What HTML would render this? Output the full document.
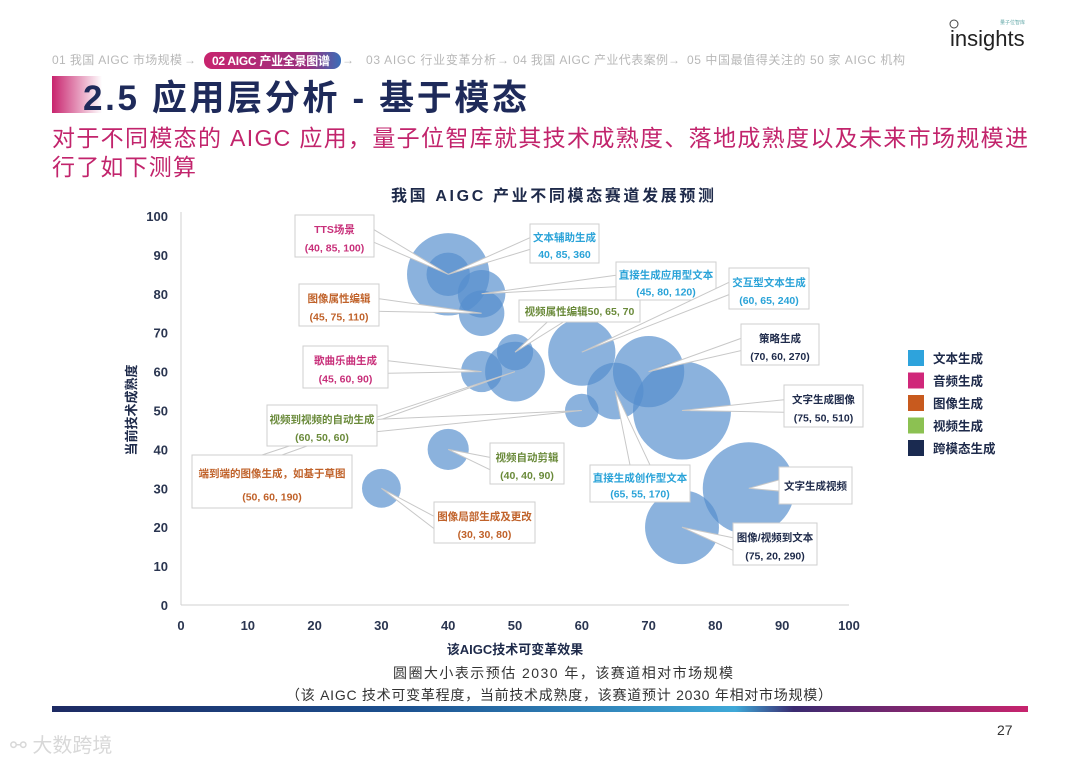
<!DOCTYPE html>
<html><head><meta charset="utf-8"><style>
body{margin:0;background:#fff;}
svg{display:block;font-family:"Liberation Sans","Noto Sans CJK SC",sans-serif;}
</style></head><body>
<svg id="page" width="1080" height="765" viewBox="0 0 1080 765" xmlns="http://www.w3.org/2000/svg">
<defs>
<linearGradient id="pill" x1="0" x2="1"><stop offset="0" stop-color="#c8246e"/><stop offset="0.75" stop-color="#9a2f7e"/><stop offset="1" stop-color="#3a6fb8"/></linearGradient>
<linearGradient id="blk" x1="0" x2="1"><stop offset="0" stop-color="#c8246e"/><stop offset="1" stop-color="#c8246e" stop-opacity="0"/></linearGradient>
<linearGradient id="bar" x1="0" x2="1"><stop offset="0" stop-color="#1d2a63"/><stop offset="0.35" stop-color="#1b4f8e"/><stop offset="0.7" stop-color="#3fa9d8"/><stop offset="0.76" stop-color="#3a2a70"/><stop offset="1" stop-color="#c8246e"/></linearGradient>
</defs>
<g>
<circle cx="954" cy="24" r="4" fill="none" stroke="#444" stroke-width="1"/>
<text x="950" y="46" font-size="22" fill="#222">insights</text>
<text x="1000" y="24" font-size="5" fill="#6aa">量子位智库</text>
</g>
<g font-size="12" fill="#b8b8b8">
<text x="52" y="64" textLength="130">01 我国 AIGC 市场规模</text>
<text x="184" y="64">→</text>
<rect x="204" y="52" width="137" height="17" rx="8" fill="url(#pill)"/>
<text x="212" y="65" fill="#fff" font-weight="bold" textLength="118">02 AIGC 产业全景图谱</text>
<text x="342" y="64">→</text>
<text x="366" y="64" textLength="130">03 AIGC 行业变革分析</text>
<text x="497" y="64">→</text>
<text x="513" y="64" textLength="155">04 我国 AIGC 产业代表案例</text>
<text x="668" y="64">→</text>
<text x="687" y="64" textLength="218">05 中国最值得关注的 50 家 AIGC 机构</text>
</g>
<rect x="52" y="76" width="50" height="37" fill="url(#blk)"/>
<text x="83" y="110" font-size="35" font-weight="bold" fill="#1e2a5a" textLength="444">2.5 应用层分析 - 基于模态</text>
<g fill="#c2246c" font-size="23">
<text x="52" y="146" textLength="976">对于不同模态的 AIGC 应用，量子位智库就其技术成熟度、落地成熟度以及未来市场规模进</text>
<text x="52" y="175" textLength="144">行了如下测算</text>
</g>
<text x="391" y="201" font-size="16" font-weight="bold" fill="#1e2a4a" textLength="323">我国 AIGC 产业不同模态赛道发展预测</text>
<g id="chart"></g>
<g font-size="14" fill="#333">
<text x="393" y="678" textLength="340">圆圈大小表示预估 2030 年，该赛道相对市场规模</text>
<text x="286" y="700" textLength="546">（该 AIGC 技术可变革程度，当前技术成熟度，该赛道预计 2030 年相对市场规模）</text>
</g>
<rect x="52" y="706" width="976" height="6" fill="url(#bar)"/>
<text x="997" y="735" font-size="14" fill="#333">27</text>
<text x="10" y="752" font-size="20" fill="#d8d8d8">⚯ 大数跨境</text>
</svg>
<script>
const names=["TTS场景","文本辅助生成","直接生成应用型文本","图像属性编辑","视频属性编辑","歌曲乐曲生成","端到端的图像生成，如基于草图","交互型文本生成","视频到视频的自动生成","视频自动剪辑","图像局部生成及更改","策略生成","直接生成创作型文本","文字生成图像","文字生成视频","图像/视频到文本"];
const xVals=[40,40,45,45,50,45,50,60,60,40,30,70,65,75,85,75];
const yVals=[85,85,80,75,65,60,60,65,50,40,30,60,55,50,30,20];
const sizes=[360,100,120,110,70,90,190,240,60,90,80,270,170,510,450,290];
const drawOrder=[0,1,2,3,4,5,6,7,8,9,10,11,12,13,14,15];
const xTicks=[0,10,20,30,40,50,60,70,80,90,100];
const yTicks=[0,10,20,30,40,50,60,70,80,90,100];
const legendNames=["文本生成","音频生成","图像生成","视频生成","跨模态生成"];
const legendColors=["#2ea3dc","#d0287a","#c85a1e","#8cc152","#1a2a50"];
const labelLines=[["TTS场景","(40, 85, 100)"],["文本辅助生成","40, 85, 360"],["直接生成应用型文本","(45, 80, 120)"],["图像属性编辑","(45, 75, 110)"],["视频属性编辑50, 65, 70"],["歌曲乐曲生成","(45, 60, 90)"],["端到端的图像生成，如基于草图","(50, 60, 190)"],["交互型文本生成","(60, 65, 240)"],["视频到视频的自动生成","(60, 50, 60)"],["视频自动剪辑","(40, 40, 90)"],["图像局部生成及更改","(30, 30, 80)"],["策略生成","(70, 60, 270)"],["直接生成创作型文本","(65, 55, 170)"],["文字生成图像","(75, 50, 510)"],["文字生成视频"],["图像/视频到文本","(75, 20, 290)"]];
const boxes=[[295,215,79,42,"r"],[530,224,69,39,"l"],[616,262,100,38,"l"],[299,284,80,42,"r"],[519,300,121,22,"b"],[303,346,85,42,"r"],[192,455,160,53,"t"],[729,268,80,41,"l"],[267,405,110,41,"r"],[490,443,74,41,"l"],[434,502,101,41,"l"],[741,324,78,41,"l"],[590,465,100,37,"t"],[784,385,79,42,"l"],[779,467,73,37,"l"],[733,523,84,42,"l"]];
const labelColors=["#c8307a","#2aa3d8","#2aa3d8","#c0622a","#6a8a3a","#c8307a","#c0622a","#2aa3d8","#6a8a3a","#6a8a3a","#c0622a","#1e2a4a","#2aa3d8","#1e2a4a","#1e2a4a","#1e2a4a"];
const X0=181,X1=849,Y0=605,Y1=216;
const sx=v=>X0+(X1-X0)*v/100;
const sy=v=>Y0-(Y0-Y1)*v/100;
const sr=s=>2.17*Math.sqrt(s);
const NS="http://www.w3.org/2000/svg";
const g=document.getElementById('chart');
function mk(t,a,p){const e=document.createElementNS(NS,t);for(const k in a)e.setAttribute(k,a[k]);(p||g).appendChild(e);return e;}
const ya=mk('line',{x1:X0,y1:Y1-4,x2:X0,y2:Y0,stroke:'#d0d0d0','stroke-width':1});


const xa=mk('line',{x1:X0,y1:Y0,x2:X1,y2:Y0,stroke:'#d0d0d0','stroke-width':1});


yTicks.forEach(v=>{const t=mk('text',{x:168,y:sy(v)+5,'font-size':13,'font-weight':'bold',fill:'#2a3550','text-anchor':'end'});t.textContent=v;

});
xTicks.forEach(v=>{const t=mk('text',{x:sx(v),y:630,'font-size':13,'font-weight':'bold',fill:'#2a3550','text-anchor':'middle'});t.textContent=v;

});
const xt=mk('text',{x:515,y:654,'font-size':13,'font-weight':'bold',fill:'#1e2a4a','text-anchor':'middle'});xt.textContent='该AIGC技术可变革效果';


const yt=mk('text',{x:0,y:0,'font-size':13,'font-weight':'bold',fill:'#1e2a4a','text-anchor':'middle',transform:'translate(136,410) rotate(-90)'});yt.textContent='当前技术成熟度';


drawOrder.forEach(i=>{const c=mk('circle',{cx:sx(xVals[i]),cy:sy(yVals[i]),r:sr(sizes[i]),fill:'rgba(84,142,205,0.68)'});

});
boxes.forEach((b,i)=>{const [x,y,w,h,s]=b;const cx=sx(xVals[i]),cy=sy(yVals[i]);let p1,p2;
if(s==='r'){p1=[x+w,y+h*0.35];p2=[x+w,y+h*0.65];}
else if(s==='l'){p1=[x,y+h*0.35];p2=[x,y+h*0.65];}
else if(s==='t'){p1=[x+w*0.5-10,y];p2=[x+w*0.5+10,y];}
else {p1=[x+w*0.3-8,y+h];p2=[x+w*0.3+8,y+h];}
const wg=mk('polygon',{points:`${p1} ${cx},${cy} ${p2}`,fill:'#fff',stroke:'#c8c8c8','stroke-width':1});


const r=mk('rect',{x:x,y:y,width:w,height:h,fill:'#fff',stroke:'#cfcfcf','stroke-width':1});


const L=labelLines[i];L.forEach((ln,k)=>{const ty=L.length===1?y+h/2+4:y+h*(k===0?0.36:0.8)+3;
const t=mk('text',{x:x+w/2,y:ty,'font-size':10.5,'font-weight':'bold',fill:labelColors[i],'text-anchor':'middle'});t.textContent=ln;

});});
legendNames.forEach((n,i)=>{const y=350+i*22.5;const r=mk('rect',{x:908,y:y,width:16,height:16,fill:legendColors[i]});


const t=mk('text',{x:933,y:y+13,'font-size':12.5,'font-weight':'bold',fill:'#1e2a4a'});t.textContent=n;

});
</script>
</body></html>
